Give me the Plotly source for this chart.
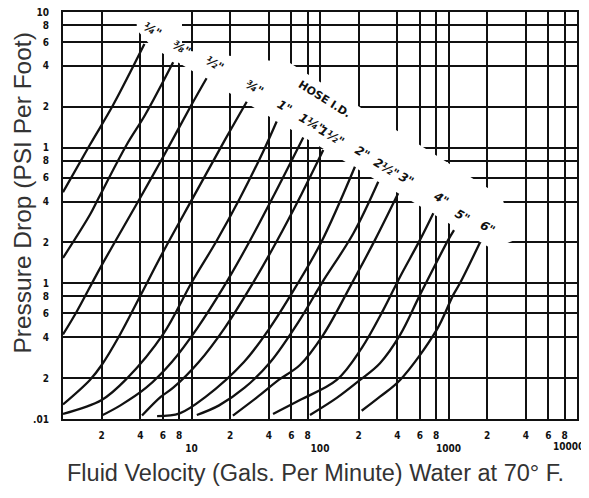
import math
import plotly.graph_objects as go

# ---------------- data ----------------
hose_labels = ['¼"', '⅜"', '½"', '¾"', '1"', '1¼"', '1½"', '2"', '2½"', '3"', '4"', '5"', '6"']

# flow (GPM) and pressure drop (PSI per foot) along each hose curve
q_14 = [1.0, 1.62, 2.46, 4.3]
p_14 = [0.47, 1.05, 2.07, 5.8]

q_38 = [1.0, 1.62, 1.88, 3.13, 4.35, 7.2]
p_38 = [0.154, 0.32, 0.42, 1.05, 1.74, 4.26]

q_12 = [1.0, 1.28, 1.94, 3.97, 6.04, 10.0, 13.1]
p_12 = [0.042, 0.062, 0.129, 0.424, 0.86, 2.07, 3.25]

q_34 = [1.0, 1.62, 2.0, 2.78, 3.97, 6.2, 10.3, 18.3, 26.9]
p_34 = [0.0128, 0.0194, 0.025, 0.042, 0.080, 0.18, 0.43, 1.15, 2.18]

q_1 = [1.0, 2.0, 3.13, 6.04, 10.0, 15.7, 23.8, 36.0, 46.0]
p_1 = [0.0109, 0.0138, 0.0198, 0.0424, 0.101, 0.206, 0.424, 0.93, 1.56]

q_114 = [2.0, 2.8, 4.44, 7.03, 11.1, 17.7, 28.0, 44.4, 74.1]
p_114 = [0.0106, 0.0126, 0.017, 0.0263, 0.0468, 0.0933, 0.2, 0.458, 1.19]

q_112 = [4.12, 5.73, 7.21, 11.4, 18.1, 28.7, 45.5, 72.1, 106]
p_112 = [0.0106, 0.0145, 0.017, 0.0263, 0.0468, 0.0933, 0.2, 0.458, 0.96]

q_2 = [5.4, 8.09, 12.8, 25.6, 40.6, 64.3, 102, 187]
p_2 = [0.0105, 0.011, 0.0145, 0.0263, 0.0468, 0.0933, 0.2, 0.724]

q_212 = [11.0, 16.4, 25.9, 41.1, 69.8, 103, 182, 284]
p_212 = [0.0107, 0.0126, 0.017, 0.0263, 0.054, 0.100, 0.234, 0.561]

q_3 = [21.0, 32.5, 48.0, 69.8, 106, 177, 268, 406]
p_3 = [0.0106, 0.0145, 0.0195, 0.025, 0.0417, 0.100, 0.209, 0.461]

q_4 = [43.1, 69.8, 135, 211, 311, 420, 600, 762]
p_4 = [0.0109, 0.0138, 0.0194, 0.0333, 0.0637, 0.112, 0.209, 0.329]

q_5 = [83.6, 135, 205, 293, 420, 600, 995, 1104]
p_5 = [0.0107, 0.0143, 0.0194, 0.0258, 0.0417, 0.0822, 0.209, 0.247]

q_6 = [211, 293, 420, 809, 1089, 1227, 1758]
p_6 = [0.0115, 0.0146, 0.0194, 0.0454, 0.0822, 0.100, 0.2]

flows = [q_14, q_38, q_12, q_34, q_1, q_114, q_112, q_2, q_212, q_3, q_4, q_5, q_6]
drops = [p_14, p_38, p_12, p_34, p_1, p_114, p_112, p_2, p_212, p_3, p_4, p_5, p_6]

x_tick_vals = [1, 2, 4, 6, 8, 10, 20, 40, 60, 80, 100, 200, 400, 600, 800,
               1000, 2000, 4000, 6000, 8000, 10000]
x_tick_text = ['', '2', '4', '6', '8', '<br>10', '2', '4', '6', '8', '<br>100',
               '2', '4', '6', '8', '<br>1000', '2', '4', '6', '8', '']
x_last_label = '10000'   # drawn separately so it stays inside the page
y_tick_vals = [0.01, 0.02, 0.04, 0.06, 0.08, 0.1, 0.2, 0.4, 0.6, 0.8,
               1, 2, 4, 6, 8, 10]
y_tick_text = ['.01', '2', '4', '6', '8', '1', '2', '4', '6', '8',
               '1', '2', '4', '6', '8', '10']

x_title = "Fluid Velocity (Gals. Per Minute) Water at 70° F."
y_title = "Pressure Drop (PSI Per Foot)"
band_title = "HOSE I.D."

# ---------------- figure ----------------
INK = "#111111"
BODY = 8                       # default page margin around the plot div
L, T, W, H = 63, 12, 514, 407  # plot area in window pixels
fig = go.Figure()

# white band behind the size labels, where the chart's grid is blanked
def px_to_data(xp, yp):
    return 10 ** ((xp - L) / (W / 4)), 10 ** (1 - (yp - T) / (H / 3))
band_px = [(136, 12), (182, 12), (182, 50), (290, 63), (502, 197),
           (515, 240), (492, 249), (152, 47), (137, 30), (136, 12)]
bx, by = zip(*[px_to_data(a, b) for a, b in band_px])
fig.add_trace(go.Scatter(x=bx, y=by, mode="lines", fill="toself",
                         fillcolor="white", line=dict(width=0, color="white"),
                         showlegend=False, hoverinfo="skip"))

for q, p in zip(flows, drops):
    fig.add_trace(go.Scatter(
        x=q, y=p, mode="lines",
        line=dict(color=INK, width=2.3, shape="spline", smoothing=1.0),
        showlegend=False, hoverinfo="skip"))

tick_font = dict(family="DejaVu Sans Condensed, DejaVu Sans", size=10,
                 color=INK, weight="bold")

annotations = []
for lab, q, p in zip(hose_labels, flows, drops):
    annotations.append(dict(
        x=math.log10(q[-1]), y=math.log10(p[-1]), xref="x", yref="y",
        text=lab, showarrow=False, textangle=30, xshift=8, yshift=14,
        xanchor="center", yanchor="middle",
        font=dict(family="DejaVu Sans", size=12, color=INK,
                  weight="bold", style="italic")))

annotations.append(dict(
    x=0.5097, y=0.786, xref="paper", yref="paper", text=band_title,
    showarrow=False, textangle=32, xanchor="center", yanchor="middle",
    font=dict(family="DejaVu Sans", size=11, color=INK, weight="bold")))

annotations.append(dict(
    x=(586 - L) / W, y=(T + H - 447) / H, xref="paper", yref="paper",
    text=x_last_label, showarrow=False, xanchor="right", yanchor="middle",
    font=tick_font))

annotations.append(dict(
    x=0.492, y=-0.133, xref="paper", yref="paper", text=x_title,
    showarrow=False, xanchor="center", yanchor="middle",
    font=dict(family="Liberation Sans, Arial", size=23.5, color="#333333")))

annotations.append(dict(
    x=-0.079, y=0.555, xref="paper", yref="paper", text=y_title,
    showarrow=False, textangle=-90, xanchor="center", yanchor="middle",
    font=dict(family="Liberation Sans, Arial", size=24.5, color="#333333")))

fig.update_layout(
    width=589 - BODY, height=498 - BODY,
    margin=dict(l=L - BODY, r=589 - L - W, t=T - BODY, b=498 - T - H,
                autoexpand=False),
    paper_bgcolor="white", plot_bgcolor="white",
    showlegend=False,
    annotations=annotations,
    xaxis=dict(type="log", range=[0, 4], tickvals=x_tick_vals, ticktext=x_tick_text,
               tickangle=0, automargin=False, ticklabeloverflow="allow",
               showgrid=True, gridcolor=INK, gridwidth=1.5, zeroline=False,
               showline=True, linecolor=INK, linewidth=2, mirror=True,
               ticks="", ticklabelstandoff=6, tickfont=tick_font),
    yaxis=dict(type="log", range=[-2, 1], tickvals=y_tick_vals, ticktext=y_tick_text,
               automargin=False, ticklabeloverflow="allow",
               showgrid=True, gridcolor=INK, gridwidth=1.5, zeroline=False,
               showline=True, linecolor=INK, linewidth=2, mirror=True,
               ticks="", ticklabelstandoff=10, tickfont=tick_font),
)

fig.write_html("out.html")
